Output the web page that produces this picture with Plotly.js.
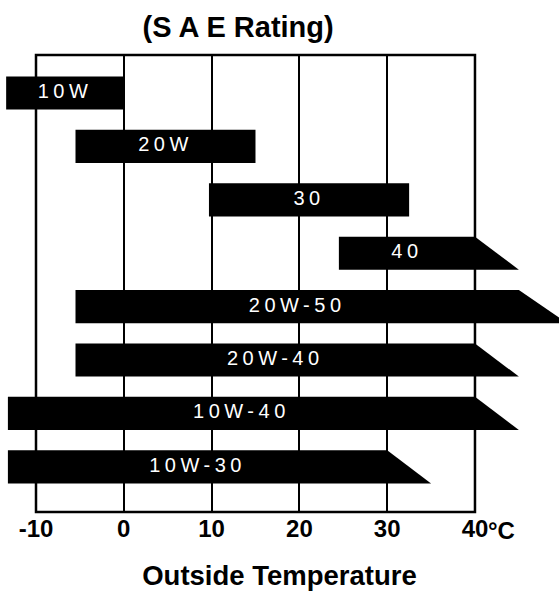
<!DOCTYPE html>
<html>
<head>
<meta charset="utf-8">
<script src="https://cdn.plot.ly/plotly-3.0.1.min.js"></script>
<style>
  html, body { margin: 0; padding: 0; background: #fff; }
  #chart { width: 559px; height: 592px; }
  .textpoint text { letter-spacing: 4.5px; }
</style>
</head>
<body>
<div id="chart"></div>
<script>
// SAE viscosity grades and their recommended outside temperature ranges (°C)
const grades   = ["10W", "20W", "30", "40", "20W-50", "20W-40", "10W-40", "10W-30"];
const lowTemp  = [-13.4, -5.5, 9.7, 24.5, -5.5, -5.5, -13.2, -13.2];
const highTemp = [0, 15, 32.5, 40, 45, 40, 40, 30];
const tipTemp  = [0, 15, 32.5, 45, 50.5, 45, 45, 35];   // lower-right end of tapered bars
const tickVals = [-10, 0, 10, 20, 30, 40];
const tickText = ["-10", "0", "10", "20", "30", "40"];

const half = 0.31;
const traces = [];
grades.forEach((g, i) => {
  traces.push({
    type: "scatter", mode: "lines", fill: "toself",
    x: [lowTemp[i], highTemp[i], tipTemp[i], lowTemp[i], lowTemp[i]],
    y: [i - half, i - half, i + half, i + half, i - half],
    line: { color: "#000", width: 0 }, fillcolor: "#000",
    hoverinfo: "skip", showlegend: false
  });
});
traces.push({
  type: "scatter", mode: "text",
  x: grades.map((g, i) => (lowTemp[i] + highTemp[i]) / 2),
  y: grades.map((g, i) => i),
  text: grades,
  textposition: "middle center",
  textfont: { family: "Liberation Sans, Arial, sans-serif", size: 20, color: "#fff" },
  hoverinfo: "skip", showlegend: false, cliponaxis: false
});

const boldFont = { family: "Liberation Sans, Arial, sans-serif", color: "#000", weight: "bold" };

const layout = {
  width: 559, height: 592,
  margin: { l: 0, r: 0, t: 55, b: 80 },
  paper_bgcolor: "#fff", plot_bgcolor: "#fff",
  showlegend: false,
  title: {
    text: "(S A E Rating)",
    font: Object.assign({}, boldFont, { size: 29 }),
    x: 0.426, xanchor: "center", y: 0.955, yanchor: "middle", xref: "container", yref: "container"
  },
  xaxis: {
    range: [-14.1, 49.57],
    tickvals: tickVals, ticktext: tickText,
    showgrid: true, gridcolor: "#000", gridwidth: 2,
    zeroline: false, showline: false, ticks: "",
    tickfont: Object.assign({}, boldFont, { size: 24 }),
    title: { text: "Outside Temperature", font: Object.assign({}, boldFont, { size: 27.5 }), standoff: 24 },
    fixedrange: true
  },
  yaxis: {
    range: [7.846, -0.712],
    showgrid: false, zeroline: false, showticklabels: false, ticks: "",
    fixedrange: true
  },
  shapes: [
    { type: "rect", xref: "x", yref: "paper", x0: -10, x1: 40, y0: 0, y1: 1,
      line: { color: "#000", width: 2.5 }, layer: "below" }
  ],
  annotations: [
    { text: "°C", xref: "x", yref: "paper", x: 40, y: 0, xanchor: "left", yanchor: "top",
      xshift: 11, yshift: -3, showarrow: false,
      font: Object.assign({}, boldFont, { size: 24 }) }
  ]
};

Plotly.newPlot("chart", traces, layout, { displayModeBar: false, staticPlot: true });
</script>
</body>
</html>
